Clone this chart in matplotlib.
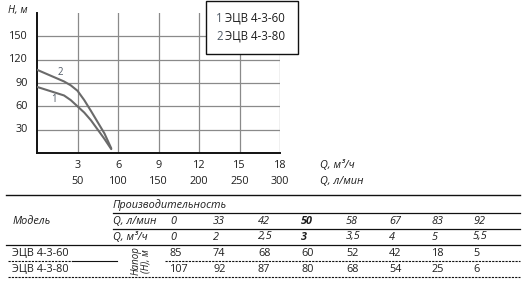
import matplotlib
matplotlib.use("Agg")
import matplotlib.pyplot as plt
from matplotlib.patches import Rectangle

plt.rcParams["font.family"] = ["Open Sans", "DejaVu Sans"]

# --- data (from the table in the picture) ---
q_lmin = [0, 33, 42, 50, 58, 67, 83, 92]
q_m3h = [0, 2, 2.5, 3, 3.5, 4, 5, 5.5]
q_m3h_lbl = ["0", "2", "2,5", "3", "3,5", "4", "5", "5,5"]
models = ["ЭЦВ 4-3-60", "ЭЦВ 4-3-80"]
head_60 = [85, 74, 68, 60, 52, 42, 18, 5]
head_80 = [107, 92, 87, 80, 68, 54, 25, 6]
xt_m3 = [3, 6, 9, 12, 15, 18]
xt_lmin = [50, 100, 150, 200, 250, 300]
yt = [30, 60, 90, 120, 150]

W, H = 523, 283
TXT = "#1e1e1e"
GRID = "#8a8a8a"
CURVE = "#6a6a6a"
fs = 7.8

fig = plt.figure(figsize=(W / 100, H / 100), dpi=100)

# chart area in pixels: x 37..280, y 13..153
ax = fig.add_axes([37 / W, 1 - 153 / H, (280 - 37) / W, (153 - 13) / H])
ax.set_xlim(0, 18)
ax.set_ylim(0, 180)
for x in xt_m3:
    ax.axvline(x, color=GRID, lw=0.9, zorder=1)
for y in yt:
    ax.axhline(y, color=GRID, lw=0.9, zorder=1)
for s in ["top", "right"]:
    ax.spines[s].set_visible(False)
for s in ["left", "bottom"]:
    ax.spines[s].set_linewidth(1.4)
    ax.spines[s].set_color("#111111")
ax.set_xticks([])
ax.set_yticks([])

ax.plot(q_m3h, head_60, color=CURVE, lw=1.5, zorder=3, solid_capstyle="round", solid_joinstyle="round")
ax.plot(q_m3h, head_80, color=CURVE, lw=1.5, zorder=3, solid_capstyle="round", solid_joinstyle="round")
ax.text(1.26, 69, "1", color="#505a66", fontsize=7, ha="center", va="center")
ax.text(1.72, 103, "2", color="#505a66", fontsize=7, ha="center", va="center")

# overlay in pixel coordinates for labels and table
ov = fig.add_axes([0, 0, 1, 1], facecolor="none")
ov.set_xlim(0, W)
ov.set_ylim(H, 0)
ov.axis("off")

def px(v):  # data x (m3/h) -> pixel
    return 37 + v / 18 * (280 - 37)

def py(v):  # data y (m) -> pixel
    return 153 - v / 180 * (153 - 13)

ov.text(8, 10, "H, м", fontsize=fs - 0.3, style="italic", color=TXT, va="center")
for y in yt:
    ov.text(28, py(y), str(y), fontsize=fs, color=TXT, ha="right", va="center")
for x, l in zip(xt_m3, xt_lmin):
    ov.text(px(x), 165, str(x), fontsize=fs, color=TXT, ha="center", va="center")
    ov.text(px(x), 182, str(l), fontsize=fs, color=TXT, ha="center", va="center")
ov.text(320, 165, "Q, м³/ч", fontsize=fs, style="italic", color=TXT, va="center")
ov.text(320, 182, "Q, л/мин", fontsize=fs, style="italic", color=TXT, va="center")

# legend box
ov.add_patch(Rectangle((206, 1), 92, 53, facecolor="white", edgecolor="#111111", lw=1.0, zorder=5))
for i, (m, yy) in enumerate(zip(models, [18, 36])):
    ov.text(216, yy, f"{i + 1}", fontsize=8.3, color="#505a66", va="center", zorder=6)
    ov.text(225, yy, m, fontsize=8.3, color=TXT, va="center", zorder=6)

# table
col_x = [170, 213, 258, 301, 346, 389, 432, 473]
ov.plot([6, 520], [195, 195], color="#111111", lw=1.0)
ov.plot([113, 520], [213, 213], color="#111111", lw=0.9)
ov.plot([113, 520], [229, 229], color="#111111", lw=0.9)
ov.plot([6, 520], [245, 245], color="#111111", lw=0.9)
ov.plot([8, 72], [261, 261], color="#111111", lw=0.8, ls=(0, (2, 1)))
ov.plot([72, 117], [261, 261], color="#111111", lw=0.8)
ov.plot([165, 520], [261, 261], color="#111111", lw=0.8, ls=(0, (2, 1)))
ov.plot([8, 520], [277, 277], color="#111111", lw=0.8, ls=(0, (2, 1)))

ov.text(113, 205, "Производительность", fontsize=fs, style="italic", color=TXT, va="center")
ov.text(13, 221, "Модель", fontsize=fs, style="italic", color=TXT, va="center")
ov.text(113, 221, "Q, л/мин", fontsize=fs, style="italic", color=TXT, va="center")
ov.text(113, 237, "Q, м³/ч", fontsize=fs, style="italic", color=TXT, va="center")
ov.text(12, 253, models[0], fontsize=fs, color=TXT, va="center")
ov.text(12, 269, models[1], fontsize=fs, color=TXT, va="center")
ov.text(141, 261, "Напор\n(H), м", fontsize=fs - 0.8, style="italic", color=TXT,
        rotation=90, ha="center", va="center", linespacing=0.9)

for i, x in enumerate(col_x):
    bold = "bold" if q_lmin[i] == 50 else "normal"
    ov.text(x, 221, str(q_lmin[i]), fontsize=fs, style="italic", weight=bold, color=TXT, va="center")
    ov.text(x, 237, q_m3h_lbl[i], fontsize=fs, style="italic", weight=bold, color=TXT, va="center")
    ov.text(x, 253, str(head_60[i]), fontsize=fs, color=TXT, va="center")
    ov.text(x, 269, str(head_80[i]), fontsize=fs, color=TXT, va="center")

fig.savefig("out.png", dpi=100)
